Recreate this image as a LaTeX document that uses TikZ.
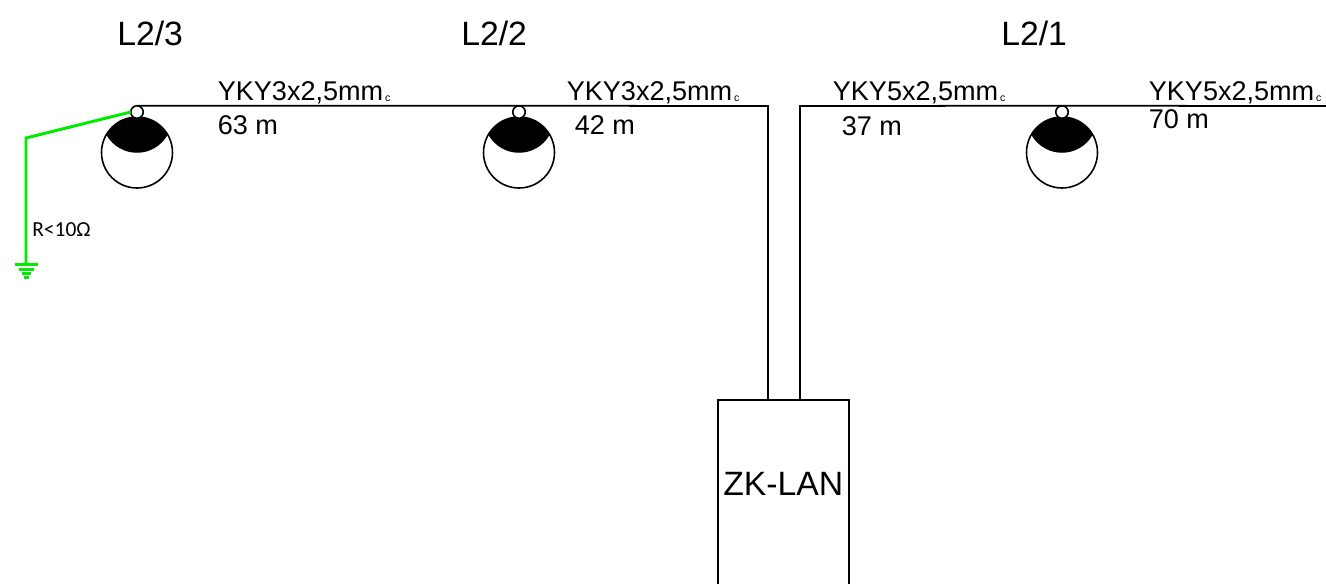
\documentclass[tikz,border=0pt]{standalone}
\usepackage{fontspec}
\setmainfont{Liberation Sans}
\newfontfamily\calibrifont{Carlito}
\usetikzlibrary{calc}
\definecolor{earthgreen}{RGB}{0,235,0}
\tikzset{
Wire/.style={line width=1pt},
Earth/.style={earthgreen,line width=1.7pt},
Cable/.style={anchor=base west,inner sep=0pt,font=\fontsize{15.4}{18}\selectfont},
Circuit/.style={anchor=base west,inner sep=0pt,font=\fontsize{19.2}{22}\selectfont},
Ohm/.style={anchor=base west,inner sep=0pt,font=\calibrifont\fontsize{12.2}{14}\selectfont},
Hook/.style={circle,draw,fill=white,line width=0.9pt,inner sep=0pt,outer sep=0pt,minimum size=0.25cm},
Bulb/.style={circle,draw,line width=0.9pt,inner sep=0pt,outer sep=0pt,minimum size=1.42cm}
}
\newcommand{\MakeLamp}[2]{%
	\begin{scope}[name prefix = #1@]%
		\node[Bulb] (bulb) at ($(#2)+(0,40.5)$) {};%
		\fill (bulb.150) arc[start angle=150,end angle=30,radius=0.71cm]
			.. controls +(-14,24) and +(14,24) .. (bulb.150);%
		\node[Hook] (hook) at (#2) {};%
	\end{scope}%
}
\newcommand{\SmallEnd}{\kern1pt\raisebox{-1pt}{\fontsize{6}{6}\selectfont c}}

\begin{document}
\begin{tikzpicture}[x=0.02cm,y=-0.02cm]
	\useasboundingbox (0,0) rectangle (1326,583);
	\clip (0,0) rectangle (1326,583);
	
	% Circuits
	\node[Circuit] (CircuitC) at (117,45) {L2/3};
	\node[Circuit] (CircuitB) at (461,45) {L2/2};
	\node[Circuit] (CircuitA) at (1001,45) {L2/1};
	
	% Distribution box
	\node[draw,Wire,anchor=north west,inner sep=0pt,minimum width=2.63cm,minimum height=4.4cm] (Lan) at (717,399) {};
	\node[Circuit] (LanText) at (723,495) {ZK-LAN};
	
	\MakeLamp{LC}{137,112}
	\MakeLamp{LB}{519,112}
	\MakeLamp{LA}{1062,112}
	
	% Cables
	\coordinate (CornerB) at (768,106);
	\coordinate (CornerA) at (800,106);
	\coordinate (LineEnd) at (1326,106);
	\draw[Wire] (LC@hook.north) -- (LB@hook.north) -- (CornerB) -- ($(Lan.north west)+(51,0)$);
	\draw[Wire] (LineEnd) -- (LA@hook.north) -- (CornerA) -- ($(Lan.north west)+(83,0)$);
	
	\node[Cable] (CableC) at (217.5,100) {YKY3x2,5mm\SmallEnd};
	\node[Cable] (CableB) at (566.5,100) {YKY3x2,5mm\SmallEnd};
	\node[Cable] (CableA) at (832.5,100) {YKY5x2,5mm\SmallEnd};
	\node[Cable] (CableZ) at (1148.5,100) {YKY5x2,5mm\SmallEnd};
	\node[Cable] (LenC) at (217.5,134) {63 m};
	\node[Cable] (LenB) at (574.5,134) {42 m};
	\node[Cable] (LenA) at (841.5,135) {37 m};
	\node[Cable] (LenZ) at (1148.5,128) {70 m};
	
	% Earthing
	\coordinate (EarthBend) at (26,138);
	\coordinate (EarthEnd) at (26,263);
	\draw[Earth] (LC@hook.west) -- (EarthBend) -- (EarthEnd);
	\foreach \y/\w in {264/11.5,269/7.5,273.5/4.5,277/2.5}{
		\draw[Earth] ($(EarthEnd)+(-\w,\y-263)$) -- ($(EarthEnd)+(\w,\y-263)$);
	}
	\node[Ohm] (EarthText) at (32,236) {R<10Ω};
\end{tikzpicture}
\end{document}
